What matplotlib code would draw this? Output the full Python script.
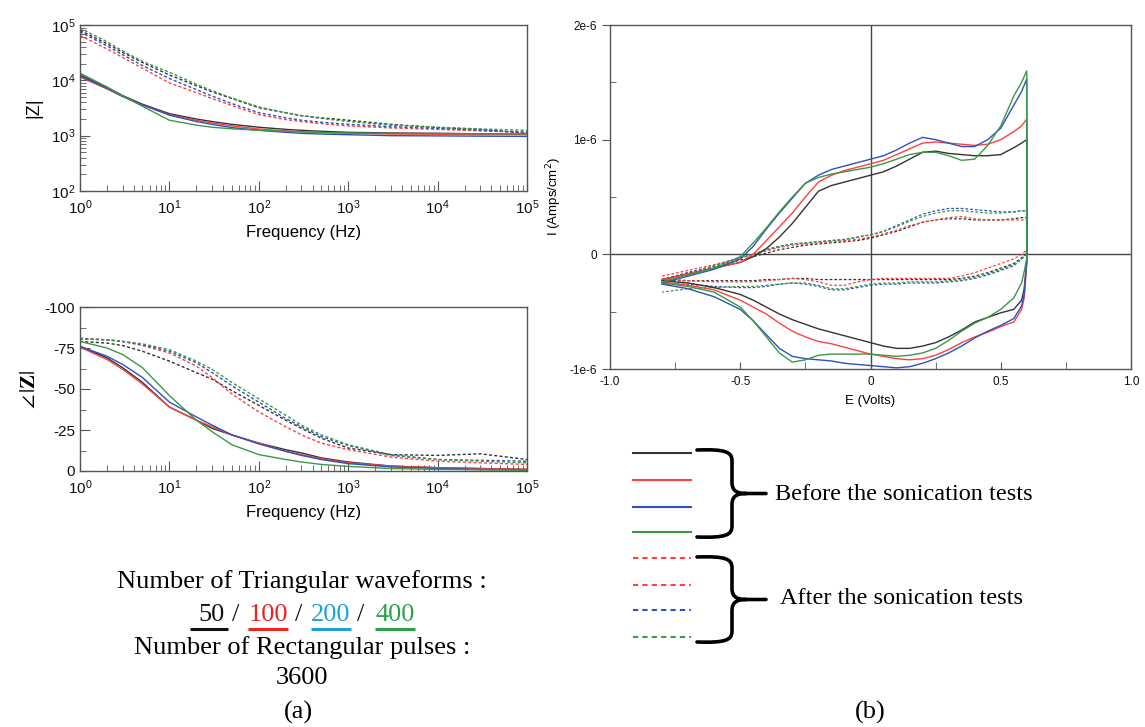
import matplotlib
matplotlib.use("Agg")
import matplotlib.pyplot as plt
from matplotlib.path import Path
from matplotlib.patches import PathPatch
import matplotlib.ticker as mticker
import numpy as np

# ---------------- data ----------------
series_names = ["50", "100", "200", "400"]
series_colors = ["#333333", "#ff4040", "#3050c0", "#3a9a44"]

freq = [1, 2, 3, 5, 10, 20, 30, 50, 100, 200, 300, 500, 1e3, 3e3, 1e4, 3e4, 1e5]

# |Z| before sonication (solid)
z_before_50 = [1.25e4, 7.5e3, 5.3e3, 3.7e3, 2.5e3, 2.0e3, 1.8e3, 1.6e3, 1.42e3, 1.3e3, 1.25e3, 1.2e3, 1.15e3, 1.12e3, 1.1e3, 1.08e3, 1.05e3]
z_before_100 = [1.15e4, 7.0e3, 5.1e3, 3.6e3, 2.4e3, 1.9e3, 1.7e3, 1.5e3, 1.32e3, 1.22e3, 1.18e3, 1.14e3, 1.1e3, 1.07e3, 1.06e3, 1.05e3, 1.05e3]
z_before_200 = [1.2e4, 7.2e3, 5.1e3, 3.6e3, 2.35e3, 1.8e3, 1.6e3, 1.4e3, 1.25e3, 1.15e3, 1.1e3, 1.07e3, 1.04e3, 1.0e3, 0.99e3, 0.98e3, 0.97e3]
z_before_400 = [1.35e4, 7.6e3, 5.2e3, 3.4e3, 1.9e3, 1.55e3, 1.42e3, 1.33e3, 1.25e3, 1.2e3, 1.17e3, 1.14e3, 1.12e3, 1.1e3, 1.1e3, 1.08e3, 1.08e3]
# |Z| after sonication (dashed)
z_after_50 = [8.0e4, 4.6e4, 3.2e4, 2.1e4, 1.25e4, 8.0e3, 6.2e3, 4.7e3, 3.2e3, 2.6e3, 2.3e3, 2.1e3, 1.9e3, 1.6e3, 1.4e3, 1.3e3, 1.1e3]
z_after_100 = [6.5e4, 3.7e4, 2.6e4, 1.65e4, 9.0e3, 6.0e3, 4.7e3, 3.5e3, 2.4e3, 1.95e3, 1.8e3, 1.65e3, 1.5e3, 1.38e3, 1.3e3, 1.22e3, 1.15e3]
z_after_200 = [7.5e4, 4.2e4, 2.9e4, 1.85e4, 1.08e4, 6.8e3, 5.2e3, 3.8e3, 2.6e3, 2.1e3, 1.9e3, 1.75e3, 1.6e3, 1.45e3, 1.35e3, 1.25e3, 1.15e3]
z_after_400 = [8.8e4, 5.0e4, 3.4e4, 2.2e4, 1.4e4, 8.5e3, 6.5e3, 4.8e3, 3.3e3, 2.6e3, 2.3e3, 2.05e3, 1.8e3, 1.55e3, 1.42e3, 1.32e3, 1.25e3]

# phase before (solid)
ph_before_50 = [-76, -69, -63, -54, -39, -31, -26, -22, -17, -13, -11, -8, -5.5, -3, -2, -1.5, -1]
ph_before_100 = [-75.5, -68, -62, -53, -39, -31, -27, -22, -17, -12, -10, -7.5, -5, -3, -2, -1.5, -1]
ph_before_200 = [-76, -70, -65, -57, -42, -33, -28, -22, -16.5, -12, -9.5, -7, -4.5, -2.5, -1.5, -1, -0.7]
ph_before_400 = [-79, -75, -71, -63, -46, -31, -24, -16, -10, -7, -5.5, -4, -2.8, -1.5, -1, -0.7, -0.5]
# phase after (dashed)
ph_after_50 = [-79, -78, -76.5, -73, -67, -60, -56, -49, -40, -31, -26, -20, -14, -10, -9.5, -10.5, -7]
ph_after_100 = [-81, -80, -79, -76.5, -72, -64, -57, -47, -36, -27, -22, -17, -13, -8.5, -6, -5, -4]
ph_after_200 = [-80.5, -80, -79, -77, -73, -66, -60, -52, -42, -32, -27, -21, -15.5, -9.5, -7, -6.5, -6]
ph_after_400 = [-80.5, -80, -79, -77.5, -74, -67, -62, -54, -44, -34, -28, -22, -16, -10, -7, -6, -5]

# CV: forward (anodic) and reverse scans, potential in V, current in uA/cm2
E_fwd = [-0.8, -0.7, -0.6, -0.5, -0.45, -0.4, -0.35, -0.3, -0.25, -0.2, -0.15, -0.1, -0.05, 0, 0.05, 0.1, 0.15, 0.2, 0.25, 0.3, 0.35, 0.4, 0.45, 0.5, 0.55, 0.58, 0.6]
E_rev = [0.6, 0.59, 0.58, 0.55, 0.5, 0.45, 0.4, 0.35, 0.3, 0.25, 0.2, 0.15, 0.1, 0.05, 0, -0.05, -0.1, -0.15, -0.2, -0.25, -0.3, -0.35, -0.4, -0.45, -0.5, -0.6, -0.7, -0.8]

i_fwd_before_50 = [-0.22, -0.17, -0.12, -0.07, -0.02, 0.05, 0.15, 0.27, 0.41, 0.55, 0.60, 0.63, 0.66, 0.69, 0.72, 0.77, 0.83, 0.89, 0.90, 0.88, 0.87, 0.86, 0.86, 0.87, 0.93, 0.97, 1.0]
i_fwd_before_100 = [-0.22, -0.17, -0.12, -0.07, 0.0, 0.12, 0.24, 0.36, 0.50, 0.63, 0.69, 0.73, 0.76, 0.79, 0.82, 0.87, 0.92, 0.97, 0.98, 0.97, 0.96, 0.95, 0.96, 1.0, 1.07, 1.12, 1.18]
i_fwd_before_200 = [-0.25, -0.19, -0.13, -0.04, 0.07, 0.22, 0.36, 0.49, 0.62, 0.69, 0.74, 0.77, 0.80, 0.83, 0.86, 0.91, 0.97, 1.02, 1.0, 0.97, 0.94, 0.94, 1.0, 1.1, 1.3, 1.42, 1.53]
i_fwd_before_400 = [-0.24, -0.18, -0.12, -0.02, 0.10, 0.23, 0.37, 0.50, 0.62, 0.67, 0.70, 0.72, 0.74, 0.76, 0.79, 0.83, 0.87, 0.89, 0.89, 0.86, 0.82, 0.83, 0.95, 1.12, 1.38, 1.5, 1.6]
i_rev_before_50 = [-0.05, -0.30, -0.40, -0.48, -0.51, -0.55, -0.59, -0.66, -0.72, -0.77, -0.80, -0.82, -0.82, -0.80, -0.77, -0.74, -0.71, -0.68, -0.65, -0.61, -0.57, -0.52, -0.46, -0.40, -0.35, -0.29, -0.25, -0.23]
i_rev_before_100 = [-0.08, -0.38, -0.48, -0.59, -0.63, -0.68, -0.72, -0.77, -0.83, -0.88, -0.91, -0.92, -0.91, -0.89, -0.87, -0.84, -0.81, -0.78, -0.76, -0.72, -0.67, -0.60, -0.52, -0.46, -0.40, -0.31, -0.27, -0.24]
i_rev_before_200 = [-0.05, -0.35, -0.45, -0.56, -0.62, -0.67, -0.73, -0.80, -0.86, -0.91, -0.95, -0.98, -0.99, -0.98, -0.97, -0.96, -0.95, -0.93, -0.92, -0.91, -0.89, -0.82, -0.70, -0.58, -0.48, -0.37, -0.30, -0.26]
i_rev_before_400 = [-0.03, -0.15, -0.25, -0.38, -0.48, -0.55, -0.60, -0.67, -0.75, -0.82, -0.86, -0.88, -0.89, -0.88, -0.87, -0.87, -0.87, -0.87, -0.88, -0.92, -0.94, -0.86, -0.72, -0.58, -0.46, -0.33, -0.28, -0.25]

i_fwd_after_50 = [-0.22, -0.16, -0.11, -0.05, -0.02, 0.01, 0.04, 0.06, 0.08, 0.09, 0.10, 0.11, 0.12, 0.14, 0.17, 0.20, 0.24, 0.28, 0.30, 0.31, 0.31, 0.30, 0.30, 0.30, 0.31, 0.32, 0.32]
i_fwd_after_100 = [-0.19, -0.14, -0.09, -0.03, 0.0, 0.03, 0.06, 0.08, 0.09, 0.10, 0.11, 0.12, 0.13, 0.15, 0.18, 0.21, 0.25, 0.28, 0.30, 0.32, 0.33, 0.31, 0.30, 0.30, 0.30, 0.30, 0.30]
i_fwd_after_200 = [-0.22, -0.16, -0.10, -0.03, 0.0, 0.04, 0.07, 0.09, 0.10, 0.11, 0.12, 0.13, 0.15, 0.17, 0.20, 0.25, 0.30, 0.35, 0.38, 0.40, 0.40, 0.39, 0.38, 0.37, 0.37, 0.38, 0.38]
i_fwd_after_400 = [-0.23, -0.17, -0.10, -0.03, 0.0, 0.04, 0.07, 0.09, 0.10, 0.11, 0.12, 0.13, 0.15, 0.17, 0.20, 0.24, 0.29, 0.33, 0.36, 0.38, 0.38, 0.37, 0.36, 0.36, 0.37, 0.38, 0.38]
i_rev_after_50 = [0.01, -0.01, -0.03, -0.08, -0.12, -0.16, -0.19, -0.21, -0.22, -0.22, -0.22, -0.22, -0.22, -0.22, -0.22, -0.22, -0.22, -0.22, -0.22, -0.21, -0.21, -0.22, -0.22, -0.23, -0.23, -0.23, -0.23, -0.23]
i_rev_after_100 = [0.03, 0.02, 0.0, -0.04, -0.08, -0.12, -0.16, -0.19, -0.21, -0.21, -0.21, -0.21, -0.21, -0.21, -0.22, -0.24, -0.27, -0.27, -0.24, -0.22, -0.21, -0.22, -0.23, -0.24, -0.24, -0.24, -0.23, -0.21]
i_rev_after_200 = [0.0, -0.02, -0.04, -0.10, -0.14, -0.18, -0.21, -0.23, -0.24, -0.25, -0.25, -0.25, -0.26, -0.26, -0.27, -0.29, -0.31, -0.31, -0.28, -0.26, -0.25, -0.26, -0.28, -0.29, -0.29, -0.28, -0.26, -0.26]
i_rev_after_400 = [0.0, -0.02, -0.04, -0.09, -0.13, -0.17, -0.20, -0.22, -0.23, -0.24, -0.24, -0.24, -0.25, -0.25, -0.26, -0.28, -0.30, -0.30, -0.27, -0.25, -0.25, -0.26, -0.27, -0.28, -0.28, -0.29, -0.30, -0.33]

cv_yticks = [-1e-6, 0, 1e-6, 2e-6]
cv_yticklabels = ["-1e-6", "0", "1e-6", "2e-6"]
cv_xticks = [-1.0, -0.5, 0, 0.5, 1.0]
cv_xticklabels = ["-1.0", "-0.5", "0", "0.5", "1.0"]
phase_ticks = [0, -25, -50, -75, -100]

legend_before_colors = ["#333333", "#ff4040", "#3050c0", "#3a9a44"]
legend_after_colors = ["#ff4040", "#ff4040", "#3050c0", "#3a9a44"]
number_colors = ["#111111", "#ee2020", "#1ea0dd", "#2aa04a"]

# ---------------- figure ----------------
W, H = 1145, 727
plt.rcParams['axes.unicode_minus'] = False
plt.rcParams['font.family'] = ['Liberation Sans', 'DejaVu Sans']
fig = plt.figure(figsize=(W / 100, H / 100), dpi=100)

def rect(l, t, r, b):
    return [l / W, 1 - b / H, (r - l) / W, (b - t) / H]

DASH = (0, (2.2, 1.6))
SPINE = "#555555"

def style_axes(ax):
    for s in ax.spines.values():
        s.set_color(SPINE)
        s.set_linewidth(1.0)

z_before = [z_before_50, z_before_100, z_before_200, z_before_400]
z_after = [z_after_50, z_after_100, z_after_200, z_after_400]
ph_before = [ph_before_50, ph_before_100, ph_before_200, ph_before_400]
ph_after = [ph_after_50, ph_after_100, ph_after_200, ph_after_400]

# |Z| plot
ax1 = fig.add_axes(rect(80, 25, 527, 191))
for c, za in zip(series_colors, z_after):
    ax1.plot(freq, za, color=c, lw=1.0, ls=DASH)
for c, zb in zip(series_colors, z_before):
    ax1.plot(freq, zb, color=c, lw=1.0)
ax1.set_xscale('log'); ax1.set_yscale('log')
ax1.set_xlim(1, 1e5); ax1.set_ylim(1e2, 1e5)
ax1.set_xlabel("Frequency (Hz)", fontsize=12, labelpad=6)
ax1.set_ylabel("|Z|", fontsize=13, labelpad=6)
ax1.xaxis.set_major_locator(mticker.LogLocator(base=10, numticks=10))
ax1.yaxis.set_major_locator(mticker.LogLocator(base=10, numticks=10))
style_axes(ax1)

# phase plot
ax2 = fig.add_axes(rect(80, 307, 527, 471))
for c, pa in zip(series_colors, ph_after):
    ax2.plot(freq, pa, color=c, lw=1.0, ls=DASH)
for c, pb in zip(series_colors, ph_before):
    ax2.plot(freq, pb, color=c, lw=1.0)
ax2.set_xscale('log')
ax2.set_xlim(1, 1e5); ax2.set_ylim(0, -100)
ax2.set_yticks(phase_ticks)
ax2.yaxis.set_minor_locator(mticker.MultipleLocator(12.5))
ax2.set_xlabel("Frequency (Hz)", fontsize=12, labelpad=6)
ax2.set_ylabel(r"$\angle\,|\mathbf{Z}|$", fontsize=15, labelpad=4, math_fontfamily='stix')
ax2.xaxis.set_major_locator(mticker.LogLocator(base=10, numticks=10))
style_axes(ax2)

for ax in (ax1, ax2):
    ax.tick_params(which='both', direction='in', top=False, right=False, labelsize=11, colors=SPINE, labelcolor='#111111')
    ax.tick_params(which='major', length=7)
    ax.tick_params(which='minor', length=4)
    ax.tick_params(axis='x', pad=5)

# CV plot
ax3 = fig.add_axes(rect(610, 25, 1131, 369))
ax3.axhline(0, color="#444444", lw=1.0, zorder=1)
ax3.axvline(0, color="#444444", lw=1.0, zorder=1)
i_fwd_before = [i_fwd_before_50, i_fwd_before_100, i_fwd_before_200, i_fwd_before_400]
i_rev_before = [i_rev_before_50, i_rev_before_100, i_rev_before_200, i_rev_before_400]
i_fwd_after = [i_fwd_after_50, i_fwd_after_100, i_fwd_after_200, i_fwd_after_400]
i_rev_after = [i_rev_after_50, i_rev_after_100, i_rev_after_200, i_rev_after_400]
for c, fa, ra in zip(series_colors, i_fwd_after, i_rev_after):
    ax3.plot(E_fwd + E_rev, np.array(fa + ra) * 1e-6, color=c, lw=0.9, ls=DASH, zorder=2)
for c, fb, rb in zip(series_colors, i_fwd_before, i_rev_before):
    ax3.plot(E_fwd + E_rev, np.array(fb + rb) * 1e-6, color=c, lw=1.0, zorder=3)
ax3.set_xlim(-1.0, 1.0); ax3.set_ylim(-1e-6, 2e-6)
ax3.set_xticks(cv_xticks); ax3.set_xticklabels(cv_xticklabels)
ax3.set_yticks(cv_yticks); ax3.set_yticklabels(cv_yticklabels)
ax3.xaxis.set_minor_locator(mticker.MultipleLocator(0.25))
ax3.yaxis.set_minor_locator(mticker.MultipleLocator(0.5e-6))
ax3.tick_params(which='both', direction='in', top=False, right=False, labelsize=8.5,
                colors=SPINE, labelcolor='#111111')
ax3.tick_params(axis='y', which='major', direction='out', length=6)
ax3.tick_params(axis='y', which='minor', length=4)
ax3.tick_params(axis='x', which='both', length=5, pad=5)
ax3.set_xlabel("E (Volts)", fontsize=9.5, labelpad=5)
ax3.set_ylabel(r"I (Amps/cm$^2$)", fontsize=9.5, labelpad=4)
style_axes(ax3)

# ---------------- overlay: legend, braces, captions ----------------
ov = fig.add_axes([0, 0, 1, 1])
ov.set_xlim(0, W); ov.set_ylim(H, 0); ov.axis('off')

leg_y_before = [453, 480, 507, 532]
leg_y_after = [558, 585, 610, 637]
for c, y in zip(legend_before_colors, leg_y_before):
    ov.plot([633, 691], [y, y], color=c, lw=1.5)
for c, y in zip(legend_after_colors, leg_y_after):
    ov.plot([633, 691], [y, y], color=c, lw=1.5, ls=(0, (2.5, 2)))

def brace(x0, x1, xt, y0, y1):
    ym = (y0 + y1) / 2
    r = 11
    verts = [(x0, y0), (x1 - 6, y0 - 1), (x1, y0 + 2), (x1, y0 + r),
             (x1, ym - r),
             (x1, ym - 2), (x1 + 6, ym), (x1 + 14, ym),
             (xt, ym),
             (x1 + 14, ym), (x1 + 6, ym), (x1, ym + 2), (x1, ym + r),
             (x1, y1 - r),
             (x1, y1 - 2), (x1 - 6, y1 + 1), (x0, y1)]
    codes = [Path.MOVETO, Path.CURVE4, Path.CURVE4, Path.CURVE4,
             Path.LINETO,
             Path.CURVE4, Path.CURVE4, Path.CURVE4,
             Path.LINETO,
             Path.MOVETO, Path.CURVE4, Path.CURVE4, Path.CURVE4,
             Path.LINETO,
             Path.CURVE4, Path.CURVE4, Path.CURVE4]
    ov.add_patch(PathPatch(Path(verts, codes), fill=False, lw=2.6, color='black', capstyle='round'))

brace(697, 732, 766, 450, 537)
brace(697, 732, 766, 557, 642)

serif = ['Liberation Serif', 'DejaVu Serif']
ov.text(775, 494, "Before the sonication tests", fontsize=17.5, family=serif, va='center', ha='left')
ov.text(780, 599, "After the sonication tests", fontsize=17.5, family=serif, va='center', ha='left')

FS = 19
ov.text(302, 582, "Number of Triangular waveforms :", fontsize=FS, family=serif, ha='center', va='center')
ov.text(302, 648, "Number of Rectangular pulses :", fontsize=FS, family=serif, ha='center', va='center')
ov.text(302, 678, "3600", fontsize=FS, family=serif, ha='center', va='center')
ov.text(298, 712, "(a)", fontsize=FS, family=serif, ha='center', va='center')
ov.text(870, 712, "(b)", fontsize=FS, family=serif, ha='center', va='center')

num_x = [212, 268, 331, 395]
ul_x = [(190, 228), (248, 288), (311, 351), (375, 415)]
slash_x = [236, 299, 361]
for name, c, x, (u0, u1) in zip(series_names, number_colors, num_x, ul_x):
    ov.text(x, 615, name, fontsize=FS, family=serif, color=c, ha='center', va='center')
    ov.plot([u0, u1], [629, 629], color=c, lw=2.2, solid_capstyle='butt')
for x in slash_x:
    ov.text(x, 615, "/", fontsize=FS, family=serif, color='#111111', ha='center', va='center')

fig.savefig("out.png", dpi=100)
